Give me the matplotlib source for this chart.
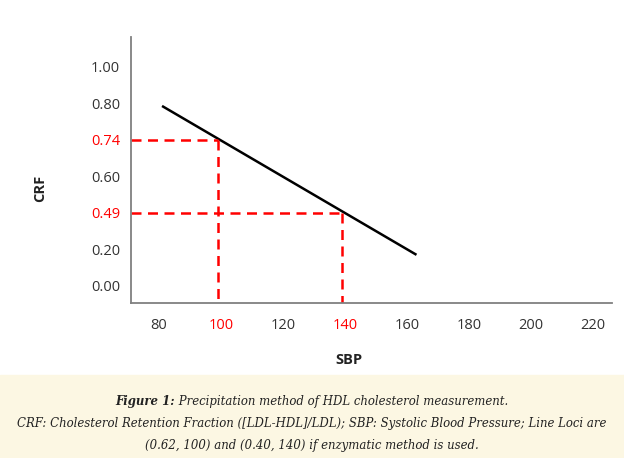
import matplotlib.pyplot as plt
from matplotlib.transforms import ScaledTranslation

# y axis is evenly spaced labels (schematic), positions 0..6
y_labels = ['0.00', '0.20', '0.49', '0.60', '0.74', '0.80', '1.00']
y_red = ['0.49', '0.74']
x_ticks = [80, 100, 120, 140, 160, 180, 200, 220]
x_red = [100, 140]

# regression line, in (SBP, label position)
line_x = [82, 164]
line_pos = [4.93, 0.85]

# loci: (SBP, CRF)
loci_sbp = [100, 140]
loci_crf = ['0.74', '0.49']

caption_bold = 'Figure 1:'
caption_1 = ' Precipitation method of HDL cholesterol measurement.'
caption_2 = 'CRF: Cholesterol Retention Fraction ([LDL-HDL]/LDL); SBP: Systolic Blood Pressure; Line Loci are'
caption_3 = '(0.62, 100) and (0.40, 140) if enzymatic method is used.'

fig = plt.figure(figsize=(6.24, 4.58), dpi=100)
ax = fig.add_axes([131/624, 1-303/458, (612-131)/624, (303-37)/458])

sans = ['Open Sans', 'DejaVu Sans']
grey = '#333333'

ax.plot(line_x, line_pos, color='black', lw=1.8, solid_capstyle='butt')
for sbp, crf in zip(loci_sbp, loci_crf):
    p = y_labels.index(crf)
    ax.plot([72, sbp], [p, p], color='#ff0000', lw=1.8, dashes=(4, 2.6))
    ax.plot([sbp, sbp], [p, -0.47], color='#ff0000', lw=1.8, dashes=(4, 2.6))

ax.set_xlim(72, 227)
ax.set_ylim(-0.47, 6.82)
ax.set_yticks(range(len(y_labels)))
ax.set_yticklabels(y_labels, fontfamily=sans, fontsize=10.5, color=grey)
ax.set_xticks(x_ticks)
ax.set_xticklabels([str(v) for v in x_ticks], fontfamily=sans, fontsize=10.5, color=grey)
ax.tick_params(axis='both', length=0)
ax.tick_params(axis='y', pad=8)
ax.tick_params(axis='x', pad=11)
for lab in ax.get_yticklabels():
    if lab.get_text() in y_red:
        lab.set_color('#ff0000')
off = ScaledTranslation(3/100, 0, fig.dpi_scale_trans)
for lab in ax.get_xticklabels():
    lab.set_transform(lab.get_transform() + off)
    if int(lab.get_text()) in x_red:
        lab.set_color('#ff0000')

for s in ['top', 'right']:
    ax.spines[s].set_visible(False)
for s in ['left', 'bottom']:
    ax.spines[s].set_color('#808080')
    ax.spines[s].set_linewidth(1.3)

fig.text(349/624, 1-360/458, 'SBP', ha='center', va='center', fontfamily=sans,
         fontsize=10.5, fontweight='bold', color='#222222')
fig.text(40/624, 1-188/458, 'CRF', ha='center', va='center', rotation=90,
         fontfamily=sans, fontsize=10.5, fontweight='bold', color='#222222')

# caption band
fig.patches.append(plt.Rectangle((0, 0), 1, 1-375/458, transform=fig.transFigure,
                                 color='#fcf7e3', zorder=0))
serif = ['DejaVu Serif', 'Liberation Serif']
r = fig.canvas.get_renderer()
cap_kw = dict(fontfamily=serif, style='italic', color='#222222', va='center',
              fontstretch='condensed')
# fit second caption line to the width seen in the picture (~589 px)
t2 = fig.text(0.5, 1-423/458, caption_2, ha='center', fontsize=11, **cap_kw)
cap_size = 11 * 589 / t2.get_window_extent(r).width
t2.set_fontsize(cap_size)
fig.text(0.5, 1-445/458, caption_3, ha='center', fontsize=cap_size, **cap_kw)
tb = fig.text(0, 1-402/458, caption_bold, fontsize=cap_size, fontweight='bold', **cap_kw)
t1 = fig.text(0, 1-402/458, caption_1, fontsize=cap_size, **cap_kw)
wb = tb.get_window_extent(r).width
w1 = t1.get_window_extent(r).width
x0 = (624 - wb - w1) / 2
tb.set_x(x0/624)
t1.set_x((x0 + wb)/624)

fig.savefig('out.png', dpi=100)
